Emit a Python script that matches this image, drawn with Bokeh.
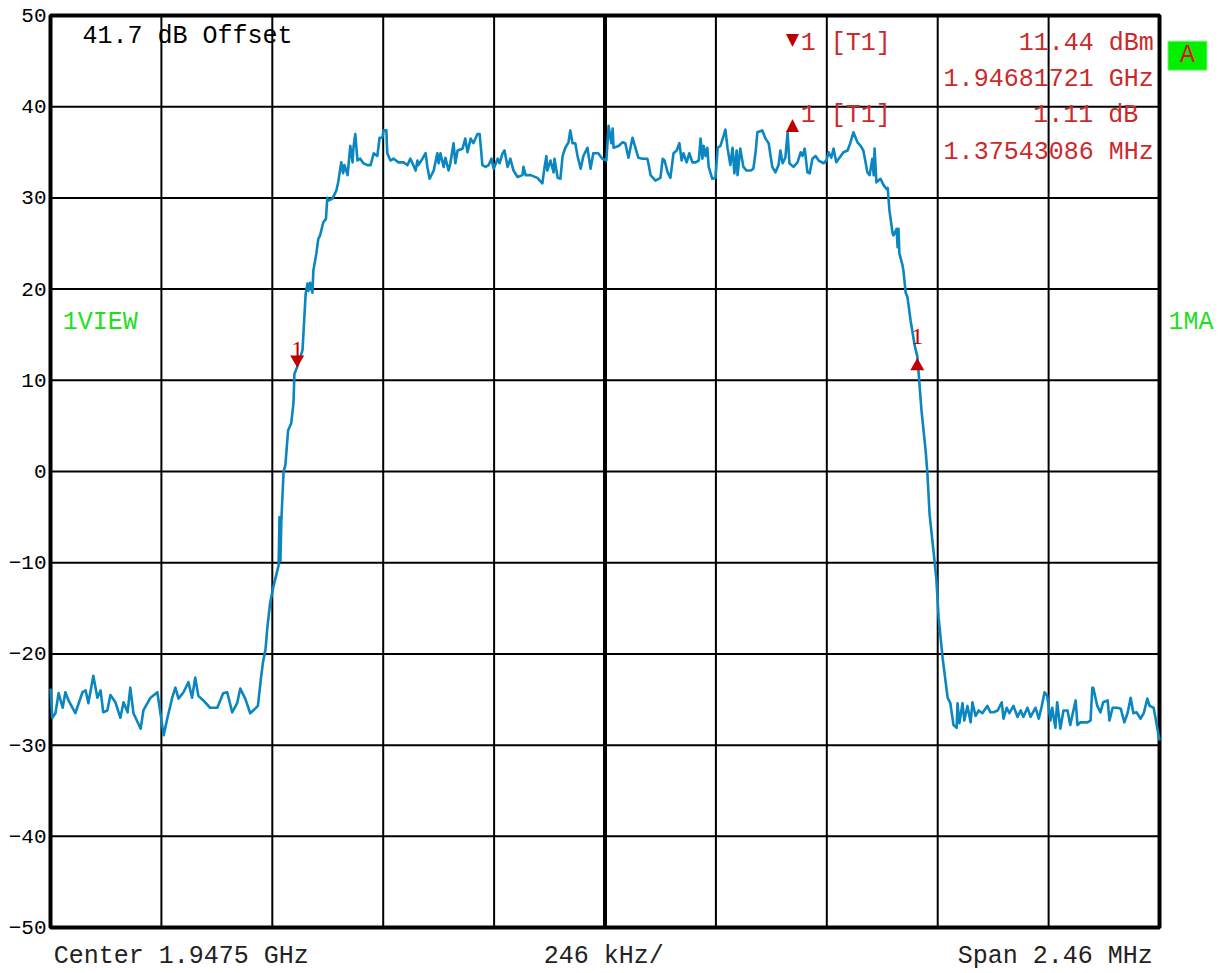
from bokeh.plotting import figure
from bokeh.models import Label, FixedTicker
from bokeh.embed import file_html
from bokeh.resources import INLINE

# Frequency offset from the centre frequency 1.9475 GHz, in kHz
freq_khz = [
    -1230, -1226, -1219, -1212, -1203, -1197, -1190, -1175, -1159, -1152,
    -1146, -1135, -1126, -1119, -1113, -1104, -1097, -1086, -1075, -1068,
    -1059, -1053, -1046, -1030, -1024, -1008, -993, -979, -971, -960,
    -953, -946, -935, -924, -916, -909, -902, -891, -876, -860,
    -847, -838, -827, -816, -809, -798, -787, -776, -770, -763,
    -759, -753, -749, -743, -736, -727, -724, -722, -720, -718,
    -713, -709, -703, -696, -691, -689, -683, -671, -664, -660,
    -658, -654, -649, -647, -640, -636, -632, -625, -619, -616,
    -614, -605, -596, -592, -585, -581, -578, -571, -565, -560,
    -558, -554, -549, -543, -536, -527, -520, -513, -505, -500,
    -494, -491, -485, -483, -476, -469, -458, -447, -438, -432,
    -427, -420, -416, -414, -405, -398, -394, -389, -383, -380,
    -372, -369, -365, -358, -354, -347, -343, -336, -332, -327,
    -316, -310, -305, -298, -292, -283, -278, -272, -265, -258,
    -252, -247, -238, -234, -227, -223, -216, -210, -203, -194,
    -183, -181, -176, -165, -150, -139, -134, -130, -128, -121,
    -114, -112, -105, -99, -94, -88, -81, -77, -72, -66,
    -61, -54, -48, -39, -32, -26, -15, -6, 3, 8,
    14, 17, 19, 30, 39, 45, 52, 61, 68, 74,
    83, 94, 97, 101, 112, 123, 128, 132, 139, 145,
    152, 159, 165, 170, 174, 181, 187, 194, 201, 208,
    212, 216, 219, 223, 227, 230, 238, 245, 250, 256,
    263, 267, 272, 278, 283, 287, 292, 294, 300, 307,
    314, 323, 329, 334, 338, 349, 356, 363, 371, 378,
    385, 389, 394, 400, 405, 409, 418, 427, 434, 438,
    443, 449, 454, 460, 467, 474, 485, 491, 496, 502,
    507, 513, 520, 529, 538, 544, 551, 560, 567, 573,
    578, 582, 587, 593, 596, 598, 602, 611, 618, 624,
    627, 631, 638, 640, 647, 649, 651, 653, 660, 662,
    667, 671, 678, 687, 693, 702, 711, 715, 720, 729,
    735, 740, 749, 760, 766, 773, 780, 782, 786, 793,
    797, 804, 811, 815, 822, 829, 837, 848, 855, 862,
    871, 880, 884, 891, 897, 906, 915, 922, 928, 937,
    944, 955, 962, 968, 975, 981, 988, 992, 999, 1003,
    1010, 1017, 1026, 1032, 1039, 1044, 1048, 1055, 1070, 1077,
    1081, 1083, 1092, 1099, 1105, 1115, 1119, 1126, 1137, 1144,
    1152, 1159, 1166, 1172, 1179, 1188, 1195, 1203, 1208, 1217,
    1230,
]

# Trace level in dBm (with 41.7 dB offset)
level_dbm = [
    -23.8, -27.0, -26.5, -24.3, -25.9, -24.2, -25.1, -26.5, -24.2, -24.0,
    -25.4, -22.4, -24.8, -24.0, -26.4, -26.2, -24.5, -25.3, -27.0, -25.3,
    -26.4, -23.7, -26.5, -28.2, -26.2, -24.8, -24.2, -28.9, -27.1, -24.8,
    -23.7, -24.9, -24.2, -23.1, -24.8, -22.6, -24.6, -25.1, -25.9, -25.9,
    -24.3, -24.2, -26.4, -25.4, -23.8, -24.9, -26.5, -26.0, -25.7, -22.6,
    -21.0, -19.5, -17.1, -14.5, -12.7, -10.9, -10.3, -5.0, -9.8, -5.5,
    0.0, 0.7, 4.5, 5.3, 7.5, 10.7, 11.44, 13.3, 19.5, 20.6,
    19.8, 20.7, 19.6, 22.0, 24.0, 25.5, 25.9, 27.3, 27.7, 30.0,
    29.7, 29.9, 30.8, 31.7, 33.9, 32.7, 33.6, 32.5, 35.7, 33.9,
    35.5, 37.0, 34.1, 34.3, 33.8, 33.6, 33.6, 34.9, 34.6, 36.6,
    36.6, 37.4, 37.4, 34.9, 34.1, 34.3, 33.9, 33.9, 33.6, 34.3,
    33.8, 33.0, 34.1, 33.6, 34.3, 34.9, 33.4, 32.1, 32.7, 33.0,
    34.9, 33.8, 34.9, 33.4, 34.4, 33.0, 33.8, 36.0, 33.8, 35.2,
    35.4, 36.5, 35.0, 36.5, 36.0, 37.0, 37.0, 33.6, 33.4, 33.6,
    34.3, 33.2, 34.3, 33.8, 34.9, 35.2, 33.4, 34.3, 33.0, 32.3,
    32.5, 33.4, 32.5, 32.5, 32.2, 31.6, 33.4, 34.6, 33.0, 34.1,
    32.8, 34.3, 32.2, 32.1, 34.6, 35.5, 36.1, 37.4, 36.0, 36.0,
    34.6, 33.2, 34.6, 35.5, 33.2, 34.9, 34.9, 34.3, 34.1, 37.9,
    36.0, 37.6, 35.5, 35.7, 36.1, 36.0, 34.4, 36.6, 35.4, 34.4,
    34.3, 34.3, 33.6, 32.5, 31.9, 32.2, 34.3, 34.1, 32.8, 32.2,
    34.9, 35.2, 36.0, 34.1, 34.9, 33.9, 34.9, 33.9, 33.9, 34.1,
    36.5, 34.3, 35.7, 34.6, 35.5, 33.4, 32.1, 32.2, 35.5, 35.7,
    36.8, 37.5, 35.4, 33.6, 35.5, 32.7, 35.2, 32.5, 35.4, 33.4,
    33.0, 33.0, 33.2, 35.0, 37.2, 37.4, 36.5, 36.0, 33.4, 32.8,
    33.6, 35.2, 33.8, 34.4, 37.2, 33.8, 33.4, 33.9, 35.0, 34.6,
    35.4, 32.8, 32.7, 34.3, 34.6, 34.1, 33.8, 34.1, 35.0, 34.4,
    35.4, 33.9, 34.4, 35.0, 35.2, 36.0, 37.2, 36.1, 35.7, 35.2,
    33.9, 32.8, 32.5, 34.3, 32.5, 35.4, 31.7, 32.1, 31.4, 31.0,
    31.1, 28.6, 26.1, 25.9, 26.6, 24.6, 26.6, 23.9, 22.6, 22.0,
    19.6, 19.1, 16.5, 13.8, 12.55, 6.7, 2.4, -0.1, -4.7, -8.9,
    -11.8, -16.0, -20.5, -24.8, -25.4, -27.8, -28.1, -25.4, -27.6, -25.4,
    -27.3, -25.7, -27.5, -25.3, -26.8, -26.2, -26.5, -25.7, -26.4, -26.4,
    -26.2, -25.3, -27.1, -25.9, -26.5, -25.7, -26.9, -26.2, -26.9, -25.9,
    -26.9, -25.9, -27.1, -25.9, -24.2, -24.6, -27.3, -25.9, -28.1, -25.3,
    -28.2, -26.2, -26.2, -27.8, -26.2, -25.1, -27.8, -27.5, -27.5, -27.3,
    -23.7, -23.7, -25.7, -26.4, -25.3, -25.1, -27.3, -25.9, -25.9, -26.0,
    -27.5, -26.5, -24.8, -26.5, -26.4, -27.1, -26.5, -24.9, -25.7, -25.9,
    -29.5,
]

# Division lines (246 kHz/div, span 2.46 MHz) and level ticks (10 dB/div)
grid_freqs_khz = [-1230, -984, -738, -492, -246, 0, 246, 492, 738, 984, 1230]
level_ticks = [-50, -40, -30, -20, -10, 0, 10, 20, 30, 40, 50]

# Markers
marker1_freq_khz = -682.79      # 1.94681721 GHz
marker1_level_dbm = 11.44
delta1_freq_khz = 1375.43       # 1.37543086 MHz
delta1_level_db = 1.11

MONO = "Liberation Mono"
RED = "#c00000"
RED_TXT = "#cc2a2a"
GREEN = "#1ee01e"

# frame covers the whole screen area right of the level labels;
# the measurement grid is drawn inside it
p = figure(frame_width=1170, frame_height=970,
           x_range=(-1238.87, 1356.4), y_range=(-54.71, 51.645),
           output_backend="svg", toolbar_location=None,
           min_border_left=46, min_border_right=0,
           min_border_top=0, min_border_bottom=0)
p.background_fill_color = "white"
p.border_fill_color = "white"
p.outline_line_color = None
p.grid.visible = False
p.xaxis.visible = False

ax = p.yaxis[0]
ax.ticker = FixedTicker(ticks=level_ticks)
ax.axis_line_color = None
ax.major_tick_line_color = None
ax.minor_tick_line_color = None
ax.major_tick_out = 0
ax.major_tick_in = 0
ax.major_label_standoff = 0
ax.major_label_text_font = MONO
ax.major_label_text_font_size = "21px"
ax.major_label_text_color = "black"

f_lo, f_hi = grid_freqs_khz[0], grid_freqs_khz[-1]
l_lo, l_hi = level_ticks[0], level_ticks[-1]

# graticule
p.segment(x0=grid_freqs_khz, y0=[l_lo] * len(grid_freqs_khz),
          x1=grid_freqs_khz, y1=[l_hi] * len(grid_freqs_khz),
          line_color="black", line_width=2)
p.segment(x0=[f_lo] * len(level_ticks), y0=level_ticks,
          x1=[f_hi] * len(level_ticks), y1=level_ticks,
          line_color="black", line_width=2)
# centre line and border thicker
p.segment(x0=[0], y0=[l_lo], x1=[0], y1=[l_hi], line_color="black", line_width=4)
p.quad(left=[f_lo], right=[f_hi], bottom=[l_lo], top=[l_hi],
       fill_color=None, line_color="black", line_width=4)

# trace
p.line(freq_khz, level_dbm, line_color="#0a86c0", line_width=2.6, line_join="round")

# markers on trace
delta_f = marker1_freq_khz + delta1_freq_khz
delta_l = marker1_level_dbm + delta1_level_db
p.scatter([marker1_freq_khz], [marker1_level_dbm + 0.84], marker="inverted_triangle",
          size=14, fill_color=RED, line_color=None)
p.scatter([delta_f], [delta_l - 1.0], marker="triangle",
          size=14, fill_color=RED, line_color=None)
p.add_layout(Label(x=marker1_freq_khz, y=marker1_level_dbm, text="1", text_align="center",
                   text_baseline="alphabetic", y_offset=18, text_font="Liberation Serif",
                   text_font_size="24px", text_color=RED))
p.add_layout(Label(x=delta_f, y=delta_l, text="1", text_align="center",
                   text_baseline="alphabetic", y_offset=21, text_font="Liberation Serif",
                   text_font_size="24px", text_color=RED))


def lab(x, y, text, color, align="left", size="25px", font=MONO, **kw):
    p.add_layout(Label(x=x, y=y, text=text, text_color=color, text_align=align,
                       text_baseline="middle", text_font=font, text_font_size=size, **kw))


# top-left offset note
lab(-1159, 47.7, "41.7 dB Offset", "black")

# marker readout
lab(416, 47.4, "\u25BC", RED, align="center", size="17px", font="DejaVu Sans")
lab(434, 46.9, "1 [T1]", RED_TXT)
lab(1217, 46.9, "11.44 dBm", RED_TXT, align="right")
lab(1217, 43.0, "1.94681721 GHz", RED_TXT, align="right")
lab(416, 38.1, "\u25B2", RED, align="center", size="17px", font="DejaVu Sans")
lab(434, 39.0, "1 [T1]", RED_TXT)
lab(1183, 39.0, "1.11 dB", RED_TXT, align="right")
lab(1217, 35.0, "1.37543086 MHz", RED_TXT, align="right")

# side labels
lab(-1203, 16.3, "1VIEW", GREEN)
lab(1250, 16.3, "1MA", GREEN)
lab(1292, 45.6, "A", "#e01010", align="center",
    background_fill_color="#00f000", border_line_color="#80f080",
    padding=dict(left=12, right=12, top=0, bottom=0))

# bottom annotations
lab(-1223, -53.2, "Center 1.9475 GHz", "#222222")
lab(-136, -53.2, "246 kHz/", "#222222")
lab(1215, -53.2, "Span 2.46 MHz", "#222222", align="right")

open("out.html", "w").write(file_html(p, INLINE))
